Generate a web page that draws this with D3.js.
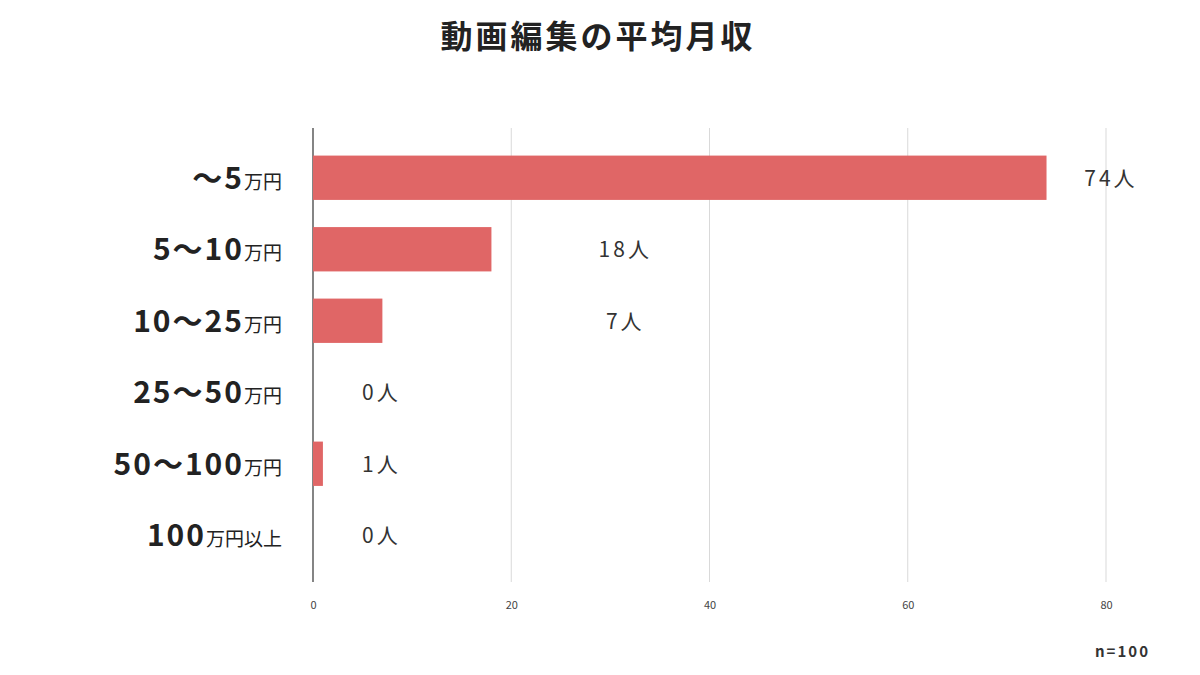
<!DOCTYPE html>
<html><head><meta charset="utf-8">
<script src="https://cdn.jsdelivr.net/npm/d3@7"></script>
<style>body{margin:0;background:#fff}text{font-family:"Noto Sans CJK JP",sans-serif}</style>
</head><body><svg id="c" width="1200" height="675"></svg>
<script>
// categories, split into bold range part and small unit part
var rangeLabels = ["～5", "5～10", "10～25", "25～50", "50～100", "100"];
var unitLabels = ["万円", "万円", "万円", "万円", "万円", "万円以上"];
var counts = [74, 18, 7, 0, 1, 0];
// where the count label sits, in axis units (as in the picture)
var labelAt = [80.5, 31.5, 31.5, 6.9, 6.9, 6.9];
var ticks = [0, 20, 40, 60, 80];

var svg = d3.select("#c");
var x = d3.scaleLinear().domain([0, 80]).range([313, 1106]);
var y = d3.scaleBand().domain(d3.range(counts.length)).range([142, 571])
  .paddingInner(0.38).paddingOuter(0.19);

svg.append("text").attr("x", 598).attr("y", 48).attr("text-anchor", "middle")
  .attr("font-size", 32).attr("font-weight", 700).attr("letter-spacing", 3)
  .attr("fill", "#222").text("動画編集の平均月収");

// grid
svg.selectAll(".g").data(ticks.slice(1)).enter().append("line")
  .attr("x1", d => x(d)).attr("x2", d => x(d)).attr("y1", 128).attr("y2", 582)
  .attr("stroke", "#d9d9d9");
svg.append("line").attr("x1", x(0)).attr("x2", x(0)).attr("y1", 128).attr("y2", 582)
  .attr("stroke", "#333").attr("stroke-width", 1.2);

var axis = svg.append("g").attr("transform", "translate(0,598)")
  .call(d3.axisBottom(x).tickValues(ticks).tickSize(0));
axis.select(".domain").remove();
axis.selectAll("text").attr("font-size", 11).attr("fill", "#444").attr("font-family", "Roboto, sans-serif");

svg.selectAll(".bar").data(counts).enter().append("rect")
  .attr("x", x(0)).attr("y", (d, i) => y(i)).attr("width", d => x(d) - x(0))
  .attr("height", y.bandwidth()).attr("fill", "#e06666");

svg.selectAll(".val").data(counts).enter().append("text")
  .attr("x", (d, i) => x(labelAt[i])).attr("y", (d, i) => y(i) + y.bandwidth() / 2 + 8)
  .attr("text-anchor", "middle").attr("font-size", 21).attr("letter-spacing", 3)
  .attr("fill", "#333").text(d => d + "人");

var lab = svg.selectAll(".cat").data(rangeLabels).enter().append("text")
  .attr("x", 282).attr("y", (d, i) => y(i) + y.bandwidth() / 2 + 11)
  .attr("text-anchor", "end").attr("fill", "#222");
lab.append("tspan").attr("font-size", 30).attr("font-weight", 700).attr("letter-spacing", 2).text(d => d);
lab.append("tspan").attr("font-size", 19).text((d, i) => unitLabels[i]);

svg.append("text").attr("x", 1150).attr("y", 657).attr("text-anchor", "end")
  .attr("font-size", 15).attr("font-weight", 700).attr("letter-spacing", 2)
  .attr("fill", "#333").text("n=100");
</script></body></html>
